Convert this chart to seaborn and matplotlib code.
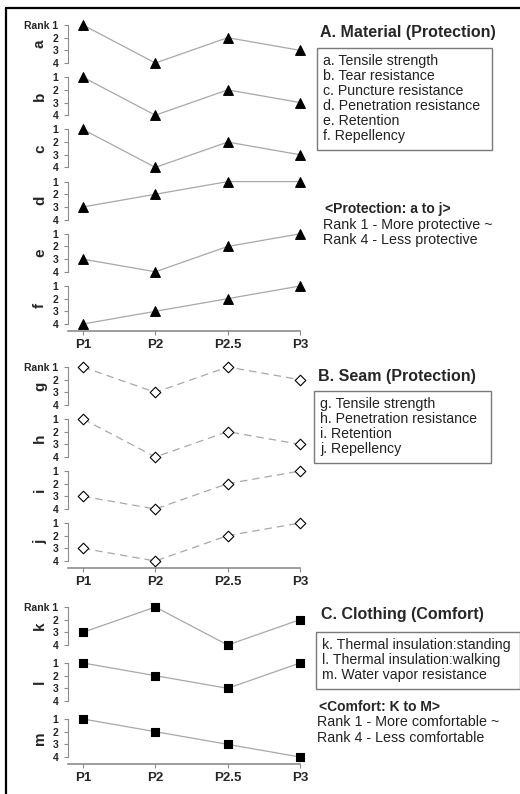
#!/usr/bin/env python3
"""Rank profiles of protection and comfort across P1-P3 positions."""

import os

os.environ.setdefault("MPLCONFIGDIR", "/tmp/matplotlib")

import matplotlib

matplotlib.use("Agg")
import matplotlib.pyplot as plt
import pandas as pd
import seaborn as sns
from matplotlib.lines import Line2D
from matplotlib.patches import Rectangle

POSITIONS = ["P1", "P2", "P2.5", "P3"]
RANK_TICKS = [1, 2, 3, 4]

MATERIAL_ROWS = ["a", "b", "c", "d", "e", "f"]
MATERIAL_RANKS = [
    [1, 4, 2, 3],
    [1, 4, 2, 3],
    [1, 4, 2, 3],
    [3, 2, 1, 1],
    [3, 4, 2, 1],
    [4, 3, 2, 1],
]

SEAM_ROWS = ["g", "h", "i", "j"]
SEAM_RANKS = [
    [1, 3, 1, 2],
    [1, 4, 2, 3],
    [3, 4, 2, 1],
    [3, 4, 2, 1],
]

CLOTHING_ROWS = ["k", "l", "m"]
CLOTHING_RANKS = [
    [3, 1, 4, 2],
    [1, 2, 3, 1],
    [1, 2, 3, 4],
]

MATERIAL_TITLE = "A. Material (Protection)"
MATERIAL_LEGEND = [
    "a. Tensile strength",
    "b. Tear resistance",
    "c. Puncture resistance",
    "d. Penetration resistance",
    "e. Retention",
    "f. Repellency",
]
SEAM_TITLE = "B. Seam (Protection)"
SEAM_LEGEND = [
    "g. Tensile strength",
    "h. Penetration resistance",
    "i. Retention",
    "j. Repellency",
]
CLOTHING_TITLE = "C. Clothing (Comfort)"
CLOTHING_LEGEND = [
    "k. Thermal insulation:standing",
    "l. Thermal insulation:walking",
    "m. Water vapor resistance",
]
PROTECTION_NOTE = ["<Protection: a to j>", "Rank 1 - More protective ~", "Rank 4 - Less protective"]
COMFORT_NOTE = ["<Comfort: K to M>", "Rank 1 - More comfortable ~", "Rank 4 - Less comfortable"]

W, H = 520, 794
AXIS_GRAY = "#8c8c8c"
LINE_GRAY = "#a8a8a8"

sns.set_theme(style="ticks")
plt.rcParams["font.family"] = ["Liberation Sans", "DejaVu Sans"]

fig = plt.figure(figsize=(W / 100, H / 100), dpi=100)


def fx(x):
    return x / W


def fy(y):
    return 1 - y / H


def draw_panel(rows, ranks, first_top, pitch, marker, msize, face, dashed):
    """Stack one small rank plot per row, shared P axis on the last one."""
    for i, (name, values) in enumerate(zip(rows, ranks)):
        top = first_top + i * pitch
        ax = fig.add_axes([fx(68), fy(top + 38), 232 / W, 38 / H])
        frame = pd.DataFrame({"pos": range(len(POSITIONS)), "rank": values})
        sns.lineplot(data=frame, x="pos", y="rank", color=LINE_GRAY, lw=0.9,
                     linestyle=(0, (6, 4)) if dashed else "-", clip_on=False, ax=ax)
        sns.scatterplot(data=frame, x="pos", y="rank", marker=marker, s=msize ** 2,
                        color=face, edgecolor="black", linewidth=0.8,
                        clip_on=False, zorder=3, ax=ax)
        ax.set_xlim(-0.207, 3.0)
        ax.set_ylim(4, 1)
        ax.set_yticks(RANK_TICKS)
        labels = [str(r) for r in RANK_TICKS]
        if i == 0:
            labels[0] = "Rank 1"
        ax.set_yticklabels(labels)
        ax.set(xlabel="", ylabel="")
        fig.text(fx(40), fy(top + 19), name, rotation=90, ha="center", va="center",
                 fontsize=11, fontweight="bold")
        ax.tick_params(axis="y", length=3, width=0.8, color=AXIS_GRAY, pad=4,
                       labelsize=7.5)
        for lab in ax.get_yticklabels():
            lab.set_fontweight("bold")
        ax.spines["top"].set_visible(False)
        ax.spines["right"].set_visible(False)
        ax.spines["left"].set_color(AXIS_GRAY)
        ax.spines["left"].set_linewidth(0.8)
        ax.patch.set_visible(False)
        if i == len(rows) - 1:
            ax.spines["bottom"].set_position(("outward", 5))
            ax.spines["bottom"].set_color(AXIS_GRAY)
            ax.spines["bottom"].set_linewidth(1.2)
            ax.set_xticks(range(len(POSITIONS)))
            ax.set_xticklabels(POSITIONS, fontweight="bold", fontsize=9.5)
            ax.tick_params(axis="x", length=3, width=0.8, color=AXIS_GRAY, pad=3)
        else:
            ax.spines["bottom"].set_visible(False)
            ax.set_xticks([])


def draw_key(title, title_xy, lines, box, first_line, step=15.0):
    """Panel title plus the boxed list of letters."""
    fig.text(fx(title_xy[0]), fy(title_xy[1]), title, fontsize=11.5,
             fontweight="bold", va="center", ha="left")
    left, top, right, bottom = box
    fig.add_artist(Rectangle((fx(left), fy(bottom)), fx(right) - fx(left), fy(top) - fy(bottom),
                             transform=fig.transFigure, fill=False, edgecolor="#7a7a7a", lw=1.0))
    for k, line in enumerate(lines):
        fig.text(fx(left + 6), fy(first_line + k * step), line, fontsize=10.2,
                 va="center", ha="left", color="#222222")


def draw_note(lines, x, y):
    fig.text(fx(x + 2), fy(y), lines[0], fontsize=10, fontweight="bold", va="center")
    for k, line in enumerate(lines[1:], start=1):
        fig.text(fx(x), fy(y + k * 15.5), line, fontsize=10.3, va="center", color="#222222")


draw_panel(MATERIAL_ROWS, MATERIAL_RANKS, 25, 52.2, "^", 7.0, "black", False)
draw_panel(SEAM_ROWS, SEAM_RANKS, 367, 52.0, "D", 5.4, "white", True)
draw_panel(CLOTHING_ROWS, CLOTHING_RANKS, 607, 56.0, "s", 5.3, "black", False)

draw_key(MATERIAL_TITLE, (320, 32), MATERIAL_LEGEND, (317, 48, 492, 150), 61)
draw_key(SEAM_TITLE, (318, 377), SEAM_LEGEND, (314, 391, 491, 463), 404)
draw_key(CLOTHING_TITLE, (321, 615), CLOTHING_LEGEND, (316, 632, 520, 689), 645)
draw_note(PROTECTION_NOTE, 323, 209)
draw_note(COMFORT_NOTE, 317, 707)

# outer frame: top and left edges only
fig.add_artist(Line2D([fx(6), 1.0], [fy(8), fy(8)], transform=fig.transFigure, color="black", lw=1.6))
fig.add_artist(Line2D([fx(6), fx(6)], [fy(8), 0.0], transform=fig.transFigure, color="black", lw=1.6))

fig.savefig("out.png", dpi=100, facecolor="white")
